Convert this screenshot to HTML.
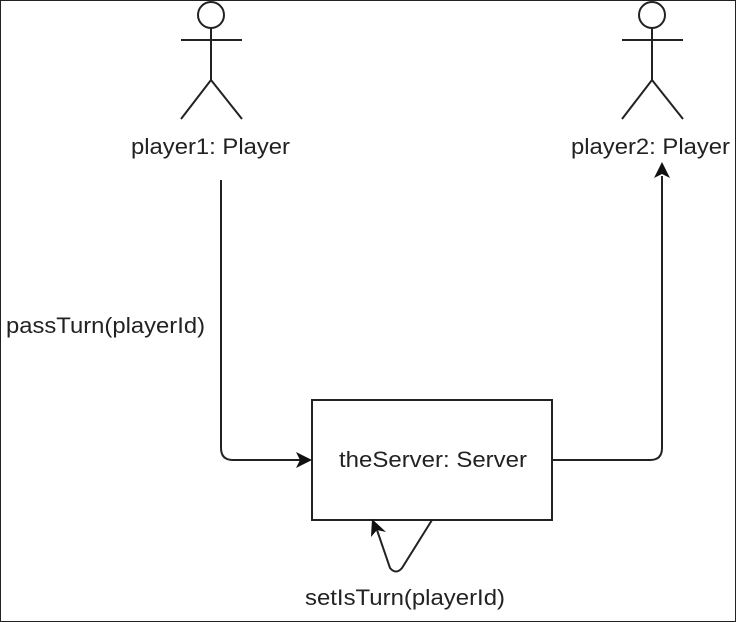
<!DOCTYPE html>
<html><head><style>body{margin:0;background:#fff}svg{display:block}text{font-family:"Liberation Sans",sans-serif;font-size:22px;fill:#222}</style></head><body>
<svg width="736" height="622" viewBox="0 0 736 622">
<rect x="0.5" y="0.5" width="735" height="621" fill="#fff" stroke="#222"/>
<g stroke="#222" stroke-width="2" fill="none">
<circle cx="211" cy="15" r="13"/><line x1="181" y1="40" x2="242" y2="40"/><line x1="211" y1="28" x2="211" y2="80"/><polyline points="181,119 211,80 242,119"/>
<circle cx="652" cy="15" r="13"/><line x1="622" y1="40" x2="683" y2="40"/><line x1="652" y1="28" x2="652" y2="80"/><polyline points="622,119 652,80 683,119"/>
<rect x="312" y="400" width="240" height="120" stroke-width="2"/>
<path d="M221 180 V448 Q221 460 233 460 H300"/>
<path d="M552 460 H650 Q662 460 662 448 V176"/>
<path d="M432 520 L402 568 Q396 575 390 568 L377 530"/>
</g>
<g fill="#111">
<polygon points="312,460 296,452 300,460 296,468"/>
<polygon points="662,162 654,178 662,174 670,178"/>
<polygon points="372,519 371,537 377,530 386,532"/>
</g>
<text x="131" y="154" textLength="159" lengthAdjust="spacingAndGlyphs">player1: Player</text>
<text x="571" y="154" textLength="159" lengthAdjust="spacingAndGlyphs">player2: Player</text>
<text x="6" y="333" textLength="199" lengthAdjust="spacingAndGlyphs">passTurn(playerId)</text>
<text x="339" y="467" textLength="188" lengthAdjust="spacingAndGlyphs">theServer: Server</text>
<text x="305" y="605" textLength="200" lengthAdjust="spacingAndGlyphs">setIsTurn(playerId)</text>
</svg>
</body></html>
